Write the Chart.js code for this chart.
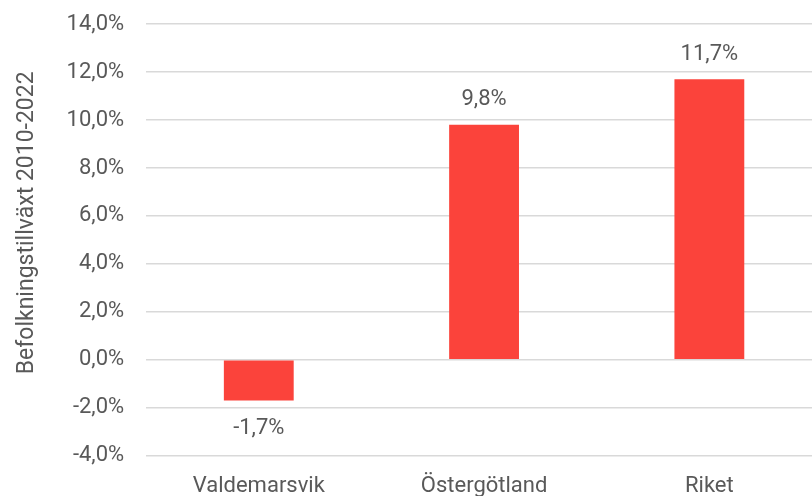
<!DOCTYPE html>
<html lang="sv">
<head>
  <meta charset="UTF-8" />
  <title>Befolkningstillväxt</title>
  <script src="https://cdn.jsdelivr.net/npm/chart.js"></script>
  <style>
    html, body { margin: 0; padding: 0; background: #fff; overflow: hidden; }
    #wrap { width: 812px; height: 496px; overflow: hidden; }
    #chart { margin-top: -11px; display: block; }
  </style>
</head>
<body>
<div id="wrap"><canvas id="chart" width="822" height="532"></canvas></div>
<script>
  const categories = ['Valdemarsvik', 'Östergötland', 'Riket'];
  const growth = [-1.7, 9.8, 11.7];
  const yTitle = 'Befolkningstillväxt 2010-2022';

  const fmt = (v, d) => v.toFixed(d).replace('.', ',') + '%';
  const textColor = '#595959';
  const fontFamily = 'Roboto, "Liberation Sans", sans-serif';

  // labels above / below bars
  const barLabels = {
    id: 'barLabels',
    afterDatasetsDraw(chart) {
      const ctx = chart.ctx;
      const meta = chart.getDatasetMeta(0);
      ctx.save();
      ctx.fillStyle = textColor;
      ctx.font = '22px ' + fontFamily;
      ctx.textAlign = 'center';
      meta.data.forEach((bar, i) => {
        const v = growth[i];
        if (v >= 0) {
          ctx.textBaseline = 'bottom';
          ctx.fillText(fmt(v, 1), bar.x, bar.y - 14);
        } else {
          ctx.textBaseline = 'top';
          ctx.fillText(fmt(v, 1), bar.x, bar.y + 17);
        }
      });
      ctx.restore();
    }
  };

  new Chart(document.getElementById('chart'), {
    type: 'bar',
    data: {
      labels: categories,
      datasets: [{
        data: growth,
        backgroundColor: '#fb433b',
        barPercentage: 0.31,
        categoryPercentage: 1
      }]
    },
    options: {
      responsive: false,
      animation: false,
      layout: { padding: { top: 1, bottom: 3, left: 9, right: 0 } },
      plugins: {
        legend: { display: false },
        tooltip: { enabled: false }
      },
      scales: {
        y: {
          min: -4,
          max: 14,
          ticks: {
            stepSize: 2,
            color: textColor,
            font: { family: fontFamily, size: 22 },
            padding: 22,
            callback: v => fmt(v, 1)
          },
          grid: { color: '#d9d9d9', lineWidth: 1.5, drawTicks: false },
          border: { display: false },
          title: {
            display: true,
            // leading spaces nudge the title upwards like the original
            text: '\u00a0\u00a0\u00a0\u00a0\u00a0\u00a0' + yTitle,
            color: textColor,
            font: { family: fontFamily, size: 23 },
            padding: { top: 4, bottom: 4 }
          }
        },
        x: {
          ticks: {
            color: textColor,
            font: { family: fontFamily, size: 22 },
            padding: 18
          },
          grid: { display: false, drawTicks: false },
          border: { display: false }
        }
      }
    },
    plugins: [barLabels]
  });
</script>
</body>
</html>
